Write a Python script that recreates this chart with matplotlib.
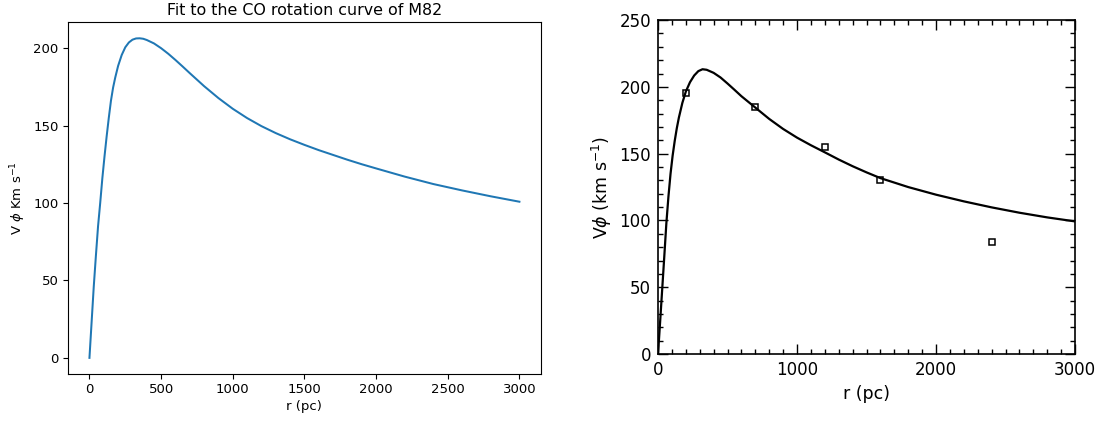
import numpy as np
import matplotlib.pyplot as plt
from matplotlib.ticker import MultipleLocator

# left panel: model fit
r_fit = [0, 15, 30, 45, 60, 75, 90, 105, 120, 135, 150, 165, 180, 200, 225,
         250, 275, 300, 325, 350, 375, 400, 450, 500, 550, 600, 650, 700,
         750, 800, 900, 1000, 1100, 1200, 1300, 1400, 1500, 1600, 1700, 1800,
         1900, 2000, 2200, 2400, 2600, 2800, 3000]
v_fit = [0, 23, 46, 66, 85, 100, 116, 130, 143, 155, 166, 174.5, 181, 188.5,
         195.5, 200.5, 203.6, 205.4, 206.2, 206.3, 206.0, 205.2, 203.0, 199.9,
         196.3, 192.3, 188.1, 183.8, 179.6, 175.4, 167.7, 160.8, 154.8, 149.6,
         145.1, 141.1, 137.5, 134.1, 131.0, 127.9, 125.0, 122.3, 117.0, 112.2,
         108.1, 104.3, 100.8]

# right panel: published curve and CO data points
r_pub = [0, 15, 30, 45, 60, 75, 90, 105, 120, 135, 150, 175, 200, 230, 260,
         290, 320, 350, 400, 450, 500, 550, 600, 700, 800, 900, 1000, 1100,
         1200, 1300, 1400, 1500, 1600, 1800, 2000, 2200, 2400, 2600, 2800,
         3000]
v_pub = [0, 24, 48.5, 73, 98, 118, 135, 148.5, 159.5, 169, 177, 188, 196.5,
         203.5, 208.5, 211.8, 213.2, 212.8, 210.5, 207, 202.5, 197.8, 193,
         184.5, 176, 168.5, 162, 156.3, 151, 145.6, 140.6, 136.0, 131.7, 125,
         119.3, 114.3, 109.8, 105.8, 102.3, 99.3]
r_obs = [200, 700, 1200, 1600, 2400]
v_obs = [195.5, 185, 155, 130, 84]

fig = plt.figure(figsize=(11.05, 4.21), dpi=100)

# left: plain matplotlib look
ax1 = fig.add_axes([0.0615, 0.112, 0.428, 0.835])
ax1.plot(r_fit, v_fit, color='#1f77b4', lw=1.45)
ax1.set_title('Fit to the CO rotation curve of M82', fontsize=11.4, pad=5)
ax1.set_xlabel('r (pc)', fontsize=9.5, labelpad=3)
ax1.set_ylabel(r'V $\phi$ Km s$^{-1}$', fontsize=9.5)
ax1.tick_params(labelsize=9.5, length=3.3, width=0.8)
ax1.set_xticks([0, 500, 1000, 1500, 2000, 2500, 3000])
ax1.set_yticks([0, 50, 100, 150, 200])
for s in ax1.spines.values():
    s.set_linewidth(0.8)

# right: IDL-style published figure
ax2 = fig.add_axes([0.5955, 0.159, 0.3774, 0.7933])
ax2.plot(r_pub, v_pub, color='black', lw=1.6)
ax2.plot(r_obs, v_obs, 's', ms=4.5, mfc='none', mec='black', mew=1.1)
ax2.set_xlim(0, 3000)
ax2.set_ylim(0, 250)
ax2.xaxis.set_major_locator(MultipleLocator(1000))
ax2.xaxis.set_minor_locator(MultipleLocator(100))
ax2.yaxis.set_major_locator(MultipleLocator(50))
ax2.yaxis.set_minor_locator(MultipleLocator(10))
ax2.tick_params(which='both', direction='in', top=True, right=True,
                labelsize=12, width=1.0, pad=5)
ax2.tick_params(which='major', length=7)
ax2.tick_params(which='minor', length=3.5)
ax2.set_xlabel('r (pc)', fontsize=12.5, labelpad=4)
ax2.set_ylabel(r'V$\phi$ (km s$^{-1}$)', fontsize=12.5, labelpad=4)
for s in ax2.spines.values():
    s.set_linewidth(1.2)

plt.savefig('out.png', dpi=100)
